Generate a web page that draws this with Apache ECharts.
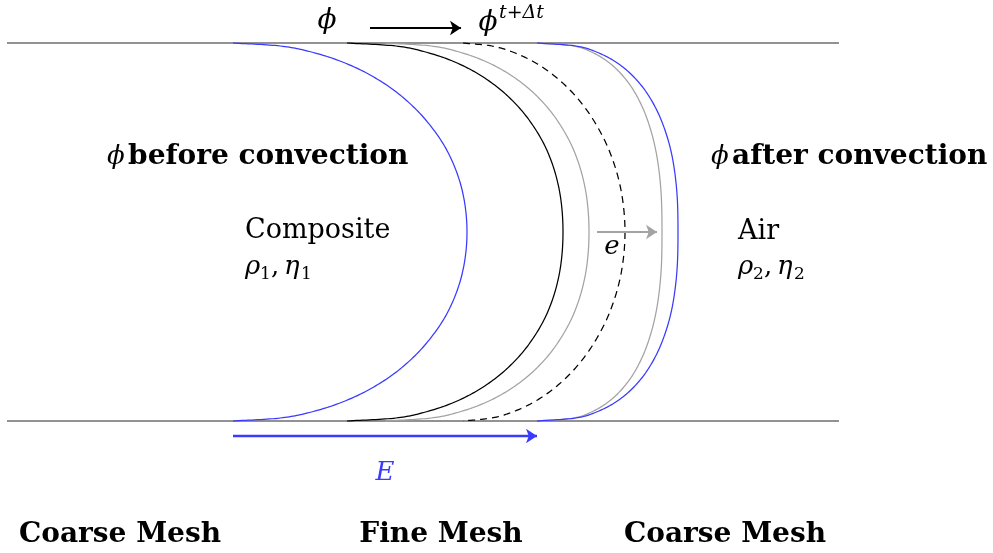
<!DOCTYPE html>
<html>
<head>
<meta charset="utf-8">
<script src="https://cdn.jsdelivr.net/npm/echarts@6/dist/echarts.min.js"></script>
<style>
html,body{margin:0;padding:0;background:#fff;}
#chart{width:993px;height:553px;}
</style>
</head>
<body>
<div id="chart"></div>
<script>
// ---- data (diagram units ~ pixels) ----
const wallX = [7, 839];
const wallY = [43, 421];
const curveY = [43, 46, 52, 62, 76, 95, 120, 152, 190, 232, 274, 312, 344, 369, 388, 402, 412, 418, 421];
const blueLeftX  = [233, 280.3, 311.4, 342.5, 372.0, 400.1, 425.8, 447.8, 462.1, 467,
                    462.1, 447.8, 425.8, 400.1, 372.0, 342.5, 311.4, 280.3, 233];
const blackX     = [347, 396.0, 425.6, 454.8, 481.6, 506.6, 529.1, 547.7, 559.3, 563,
                    559.3, 547.7, 529.1, 506.6, 481.6, 454.8, 425.6, 396.0, 347];
const gray1X     = [385, 431.3, 459.3, 486.8, 512.1, 535.8, 557.0, 574.5, 585.5, 589,
                    585.5, 574.5, 557.0, 535.8, 512.1, 486.8, 459.3, 431.3, 385];
const dashedX    = [463, 491.8, 512.6, 534.0, 554.5, 574.6, 593.4, 609.8, 621.0, 625,
                    621.0, 609.8, 593.4, 574.6, 554.5, 534.0, 512.6, 491.8, 463];
const gray2X     = [540, 573.6, 591.5, 608.2, 623.0, 636.3, 647.5, 656.1, 660.9, 662,
                    660.9, 656.1, 647.5, 636.3, 623.0, 608.2, 591.5, 573.6, 540];
const blueRightX = [537, 575.8, 596.5, 615.8, 632.9, 648.2, 661.2, 671.2, 676.7, 678,
                    676.7, 671.2, 661.2, 648.2, 632.9, 615.8, 596.5, 575.8, 537];
// arrows: [x0, x1, y]
const arrowPhi = [370, 461, 28];
const arrowE   = [233, 537, 436];
const arrowE2  = [597, 657, 232];

const BLUE = '#3a3aff';
const GRAY = '#a3a3a3';
const WALL = '#6e6e6e';
const INK = '#000';
const SERIF = '"DejaVu Serif", "Liberation Serif", serif';

function pts(xs){ return xs.map((x,i)=>[x, curveY[i]]); }
// smooth (Catmull-Rom) rendering through the pixel points given by the axes
function spline(P, steps){
  const n = P.length;
  const get = i => i < 0 ? [2*P[0][0]-P[1][0], 2*P[0][1]-P[1][1]]
                 : i >= n ? [2*P[n-1][0]-P[n-2][0], 2*P[n-1][1]-P[n-2][1]] : P[i];
  const out = [[P[0][0], P[0][1]]];
  for (let i = 0; i < n-1; i++) {
    const p0 = get(i-1), p1 = P[i], p2 = P[i+1], p3 = get(i+2);
    for (let s = 1; s <= steps; s++) {
      const t = s/steps, t2 = t*t, t3 = t2*t;
      const c = k => 0.5*(2*p1[k] + (-p0[k]+p2[k])*t + (2*p0[k]-5*p1[k]+4*p2[k]-p3[k])*t2
               + (-p0[k]+3*p1[k]-3*p2[k]+p3[k])*t3);
      out.push([c(0), c(1)]);
    }
  }
  return out;
}
function curve(xs, color, dash){
  const data = pts(xs);
  return {type:'custom', coordinateSystem:'cartesian2d', data:[data[0]], silent:true, z:3, clip:false,
    renderItem:(params, api) => ({
      type:'polyline',
      shape:{points: spline(data.map(p => api.coord(p)), 16)},
      style:{stroke:color, lineWidth:1.25, fill:'none', lineDash: dash || null}
    })};
}
function wall(y){
  return {type:'line', data:[[wallX[0],y],[wallX[1],y]], showSymbol:false, symbol:'none',
    lineStyle:{color:WALL, width:1.4}, silent:true, z:2};
}
function arrow(a, color, w, s){
  return {type:'lines', coordinateSystem:'cartesian2d', symbol:['none','arrow'], symbolSize:s,
    lineStyle:{color:color, width:w, opacity:1}, data:[{coords:[[a[0],a[2]],[a[1],a[2]]]}], silent:true, z:4};
}

const chart = echarts.init(document.getElementById('chart'), null, {renderer:'canvas'});
function txt(x, y, text, style){
  return {type:'text', x:x, y:y, z:10, style:Object.assign({text:text, font:'27px '+SERIF, fill:INK,
    textAlign:'left', textVerticalAlign:'middle'}, style||{})};
}
const it = 'italic 26px ' + SERIF;
const bold = 'bold 28px ' + SERIF;
const sub = '17px ' + SERIF;
// "ρk, ηk" with real subscripts
function rhoEta(x, y, k){
  return [
    txt(x, y, 'ρ', {font:it}),
    txt(x+15, y+8, k, {font:sub}),
    txt(x+26, y, ',', {font:'26px '+SERIF}),
    txt(x+39, y, 'η', {font:it}),
    txt(x+56, y+8, k, {font:sub})
  ];
}
chart.setOption({
  animation:false,
  grid:{left:0, right:0, top:0, bottom:0},
  xAxis:{type:'value', min:0, max:993, show:false},
  yAxis:{type:'value', min:0, max:553, inverse:true, show:false},
  series:[
    wall(wallY[0]), wall(wallY[1]),
    curve(blueLeftX, BLUE),
    curve(blackX, '#000'),
    curve(gray1X, GRAY),
    curve(dashedX, '#000', [7,5]),
    curve(gray2X, GRAY),
    curve(blueRightX, BLUE),
    arrow(arrowPhi, '#000', 2, 11),
    arrow(arrowE, BLUE, 2.4, 11),
    arrow(arrowE2, GRAY, 2, 11)
  ],
  graphic:[
    txt(327, 21, 'ϕ', {font:'italic 28px '+SERIF, textAlign:'center'}),
    txt(488, 23, 'ϕ', {font:'italic 28px '+SERIF, textAlign:'center'}),
    txt(499, 13, 't+Δt', {font:'italic 19px '+SERIF}),
    {type:'text', x:107, y:157, z:10, style:{text:'{i|ϕ} {b|before convection}', textVerticalAlign:'middle',
      rich:{i:{font:it, fill:INK}, b:{font:bold, fill:INK}}}},
    {type:'text', x:711, y:157, z:10, style:{text:'{i|ϕ} {b|after convection}', textVerticalAlign:'middle',
      rich:{i:{font:it, fill:INK}, b:{font:bold, fill:INK}}}},
    txt(245, 231, 'Composite'),
    txt(738, 232, 'Air'),
    ...rhoEta(245, 267, '1'),
    ...rhoEta(738, 267, '2'),
    txt(612, 247, 'e', {font:it, textAlign:'center'}),
    txt(385, 473, 'E', {font:it, textAlign:'center', fill:BLUE}),
    txt(120, 535, 'Coarse Mesh', {font:bold, textAlign:'center'}),
    txt(441, 535, 'Fine Mesh', {font:bold, textAlign:'center'}),
    txt(725, 535, 'Coarse Mesh', {font:bold, textAlign:'center'})
  ]
});
</script>
</body>
</html>
